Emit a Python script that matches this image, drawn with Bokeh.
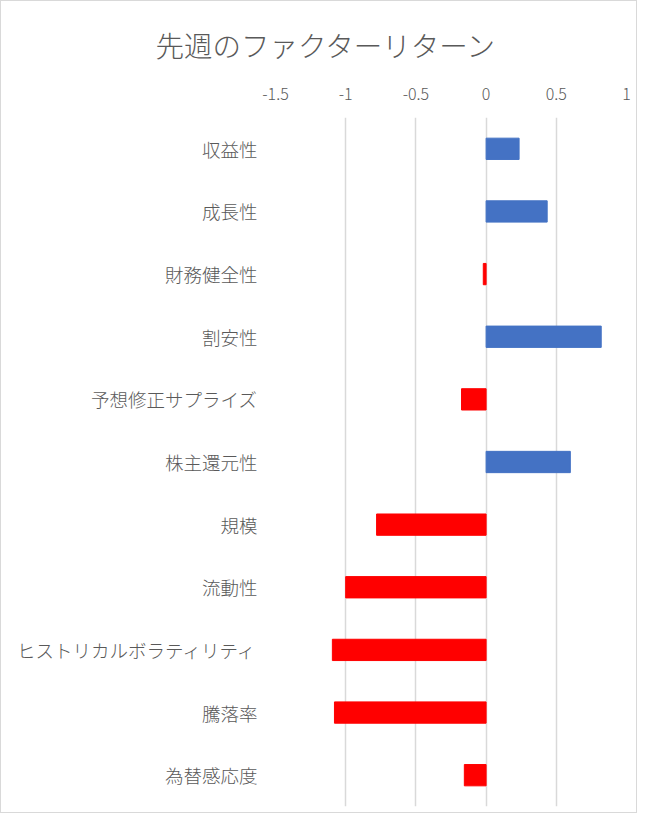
from bokeh.plotting import figure
from bokeh.models import ColumnDataSource, FixedTicker
from bokeh.embed import file_html
from bokeh.resources import INLINE

# factor returns for last week (top to bottom as shown)
factors = ["収益性", "成長性", "財務健全性", "割安性", "予想修正サプライズ", "株主還元性",
           "規模", "流動性", "ヒストリカルボラティリティ", "騰落率", "為替感応度"]
returns = [0.235, 0.435, -0.02, 0.82, -0.175, 0.60, -0.78, -1.0, -1.095, -1.08, -0.155]
ticks = [-1.5, -1, -0.5, 0, 0.5, 1]
tick_labels = ["-1.5", "-1", "-0.5", "0", "0.5", "1"]

colors = ["#4472C4" if r > 0 else "#FF0000" for r in returns]
src = ColumnDataSource(dict(factor=factors, ret=returns, color=colors))

FONT = "Noto Sans CJK JP Light"
GRAY = "#595959"

p = figure(y_range=list(reversed(factors)), x_range=(-1.5, 1),
           width=637, height=813, x_axis_location="above",
           title="先週のファクターリターン",
           output_backend="svg", toolbar_location=None,
           min_border_left=274, min_border_right=12,
           min_border_top=116, min_border_bottom=8)
p.styles = {"border": "1px solid #d9d9d9"}

p.hbar(y="factor", left=0, right="ret", height=0.34, color="color", source=src)

p.outline_line_color = None
p.xgrid.grid_line_color = "#d9d9d9"
p.xgrid.grid_line_width = 1.5
p.ygrid.grid_line_color = None

p.xaxis.ticker = FixedTicker(ticks=ticks)
p.xaxis.major_label_overrides = dict(zip(ticks, tick_labels))
for ax in (p.xaxis, p.yaxis):
    ax.axis_line_color = None
    ax.major_tick_line_color = None
    ax.minor_tick_line_color = None
    ax.major_label_text_color = GRAY
    ax.major_label_text_font = FONT
p.xaxis.major_label_text_font_size = "16px"
p.xaxis.major_label_standoff = 12
p.yaxis.major_label_text_font_size = "18.5px"
p.yaxis.major_label_standoff = 12

p.title.text_font = FONT
p.title.text_font_size = "28.5px"
p.title.text_font_style = "normal"
p.title.text_color = GRAY
p.title.align = "left"
p.title.offset = -120
p.title.standoff = 40

open("out.html", "w").write(file_html(p, INLINE))
